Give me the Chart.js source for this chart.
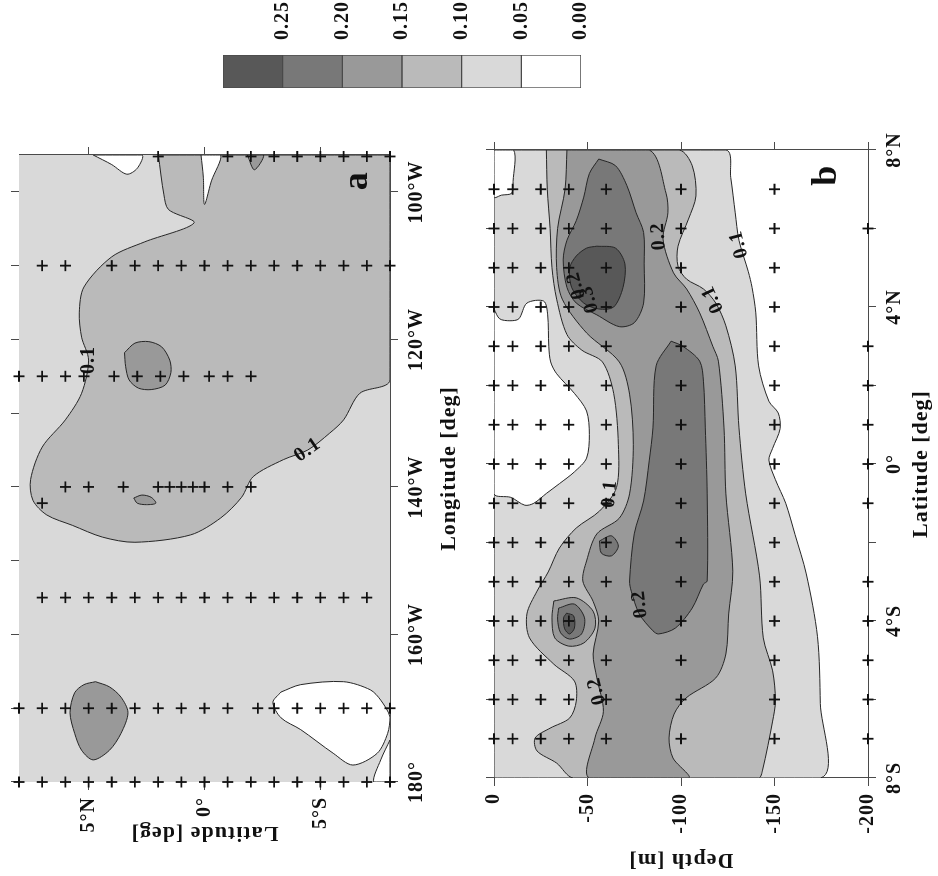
<!DOCTYPE html>
<html>
<head>
<meta charset="utf-8">
<title>Sections</title>
<script src="https://cdn.jsdelivr.net/npm/chart.js@4.4.1/dist/chart.umd.min.js"></script>
<style>
  html, body { margin: 0; padding: 0; background: #fff; overflow: hidden; }
  /* the figure is laid out upright and turned a quarter turn for the page */
  #page { position: absolute; left: 0; top: 0; width: 876px; height: 938px;
          transform-origin: 0 0; transform: translate(0, 876px) rotate(-90deg); }
  #page canvas { position: absolute; }
</style>
</head>
<body>
<div id="page">
  <canvas id="panelA" width="876" height="475" style="left:0;top:0"></canvas>
  <canvas id="panelB" width="876" height="463" style="left:0;top:475px"></canvas>
  <canvas id="scaleBar" width="116" height="400" style="left:760px;top:200px"></canvas>
</div>
<script>
// shading classes, shared by both panels and the scale bar
const levelBounds = [0, 0.05, 0.10, 0.15, 0.20, 0.25, 0.30]
const shades = ['#ffffff', '#d9d9d9', '#bababa', '#999999', '#787878', '#585858']

// ---- panel a: x = longitude (deg E), y = latitude
const lonTicksMajor = [180, 200, 220, 240, 260]
const lonTicksMinor = [180, 190, 200, 210, 220, 230, 240, 250, 260]
const latTicksA = [5, 0, -5]

const mapBackground = [[180, 8], [265, 8], [265, -8], [180, -8]]
const map010 = [[265, 1.99], [265, -8], [234.5, -8], [232.7, -6.7], [229.1, -6.0], [227.3, -5.4], [225, -4.45],
    [223.7, -3.4], [221.4, -2.1], [218.6, -1.6], [215.8, -0.7], [213.5, 0.6], [212.5, 3.0], [213.2, 4.4],
    [214.8, 5.7], [216.2, 6.8], [218.2, 7.4], [221, 7.5], [225.4, 7.0], [229.1, 6.0], [232.7, 5.3], [237.2, 5.0],
    [240.3, 5.3], [243.6, 5.4], [247.1, 5.2], [251.2, 4.0], [253.2, 2.6], [255.8, 0.45], [257.6, 1.55], [259.6, 1.75]]
const map015West = [[193.6, 4.7], [192.9, 4.1], [191.5, 3.6], [189.4, 3.3], [186.6, 3.6], [184.3, 4.1], [183, 4.8],
    [184.3, 5.3], [186.6, 5.6], [189.4, 5.8], [192.1, 5.6], [193.2, 5.2]]
const map015Mid = [[218.5, 3.05], [218.9, 2.7], [218.6, 2.3], [217.8, 2.1], [217.6, 2.5], [217.8, 2.9]]
const map015East = [[238.2, 3.45], [239.5, 3.0], [239.7, 2.4], [239, 1.85], [237.2, 1.5], [235.5, 1.45],
    [233.8, 1.7], [233.2, 2.3], [233.4, 2.85], [234.5, 3.25], [236.3, 3.4]]
const map015Edge = [[265, -1.85], [263, -2.15], [265, -2.55]]
const map000Top = [[265, 4.8], [263.7, 4.0], [262.4, 3.35], [263.2, 2.9], [265, 2.7]]
const map000Wedge = [[265, 0.15], [262, 0.05], [258.3, 0.0], [261.5, -0.3], [265, -0.7]]
const map000South = [[192.2, -3.3], [193.2, -4.15], [193.6, -6.0], [192.5, -7.15], [191.1, -7.6], [188.8, -8],
    [186.6, -7.9], [183.9, -7.45], [182.3, -6.4], [183.9, -5.55], [187.1, -4.15], [188.7, -3.3], [190.8, -2.95]]
const map000Corner = [[185.7, -8], [183, -7.6], [180, -7.3], [180, -8]]

const stationLons = [180, 190, 205, 220, 235, 250, 264.8]
const stationLats = [
    [8, 7, 6, 5, 4, 3, 2, 1, 0, -1, -2, -3, -4, -5, -6, -7, -8],
    [8, 7, 6, 5, 4, 3, 2, 1, 0, -1, -2.3, -3, -4, -5, -6, -7, -8],
    [7, 6, 5, 4, 3, 2, 1, 0, -1, -2, -3, -4, -5, -6, -7],
    [6, 5, 3.5, 2, 1.5, 1, 0.5, 0, -1, -2],
    [8, 7, 6, 5.2, 3.9, 2.9, 1.9, 0.9, -0.2, -1, -2],
    [7, 6, 4, 3, 2, 1, 0, -1, -2, -3, -4, -5, -6, -7, -8],
    [2, -1, -2, -3, -4, -5, -6, -7, -8],
]
const extraStationsA = [[217.8, 7]]

const mapLabels = [[237.2, 5.0, '0.1', 0], [225, -4.45, '0.1', 55]]
const mapTag = [[261.5, -6.6, 'a', 0]]

// ---- panel b: x = latitude, y = depth (m)
const latTicksB = [-8, -6, -4, -2, 0, 2, 4, 6, 8]
const depthTicks = [0, -50, -100, -150, -200]

const sectionL1 = [[8, 0], [-8, 0], [-8, -174.5], [-6.1, -174.5], [-4.4, -173], [-2.8, -167], [-1.8, -161],
    [-1.0, -156], [-0.4, -150.5], [0.1, -147], [0.4, -149], [0.9, -153], [1.3, -152], [1.6, -147], [2.5, -141.5],
    [3.85, -140], [4.5, -138], [4.9, -136], [5.7, -131], [6.4, -129], [7.3, -126.6], [8, -124]]
const sectionWhiteTop = [[8, 0], [8, -10.5], [7.2, -10.2], [6.9, -9.5], [6.85, -4], [6.8, 0]]
const sectionWhiteMid = [[3.95, 0], [3.7, -3], [3.65, -8.5], [3.7, -13.3], [4.1, -17.6], [4.15, -26.6], [3.8, -28.7],
    [3.0, -29.3], [2.6, -30.3], [2.3, -33.5], [1.8, -43], [1.35, -49.5], [0.75, -51], [0.15, -49.5], [-0.2, -43],
    [-0.5, -35], [-0.75, -28], [-1.0, -21.3], [-1.05, -16.5], [-0.85, -9], [-0.75, 0]]
const sectionL2 = [[8, -28], [7, -28.5], [6, -30], [5, -31], [4.2, -33.5], [3.3, -39], [2.9, -47], [2.6, -58],
    [1.8, -64], [0.5, -66.5], [-0.6, -65.5], [-1.2, -56.4], [-1.63, -44], [-2.14, -35], [-2.75, -29], [-3.24, -23],
    [-3.82, -17.6], [-4.43, -19], [-5.1, -32], [-5.53, -43], [-6.04, -44], [-6.47, -40.5], [-6.73, -30],
    [-6.98, -22], [-7.31, -23], [-7.62, -33.5], [-8, -42.5],
    [-8, -141.5], [-7.8, -143.6], [-6.55, -149], [-6.04, -150.5], [-5.27, -149], [-4.43, -144], [-2.85, -142],
    [-0.76, -134.6], [0.92, -131], [2.5, -129], [3.52, -124], [4.1, -118.6], [4.46, -112], [4.71, -103],
    [5.04, -98.4], [5.55, -98.4], [6.24, -104], [6.83, -108], [7.6, -106], [8, -99]]
const sectionL3 = [[8, -39], [7, -38], [6, -34], [5, -33.5], [4.2, -36.5], [3.34, -49.5], [2.6, -67], [1.78, -72.5],
    [0.5, -74.5], [-0.76, -72.5], [-1.38, -67], [-1.78, -55], [-2.47, -49.5], [-2.98, -47.5], [-3.5, -53],
    [-4, -56], [-4.84, -53], [-5.45, -55], [-6.3, -58.5], [-6.98, -54], [-8, -51],
    [-8, -104], [-7.49, -95.7], [-6.98, -93.6], [-6.37, -96.3], [-5.96, -102.7], [-5.45, -118.6], [-4.84, -124],
    [-3.82, -125.5], [-2.73, -127.7], [-0.76, -124], [0.92, -123], [2.62, -120], [3.0, -117], [3.85, -110],
    [4.46, -103], [4.87, -96], [5.73, -90.4], [6.4, -93], [6.9, -92], [8, -83]]
const sectionL4North = [[7.77, -56], [7.6, -65], [7.1, -71], [6.4, -76], [5.9, -80], [5.1, -80.3], [4.1, -80],
    [3.6, -75], [3.5, -67], [3.8, -55], [4.1, -44], [4.5, -39], [5.2, -37], [5.7, -39], [6.2, -44], [6.8, -48],
    [7.4, -51]]
const sectionL5North = [[5.55, -55], [5.5, -65], [5.1, -70], [4.5, -69], [4.0, -64], [3.95, -56], [4.1, -48],
    [4.5, -41.5], [5.0, -40.5], [5.3, -44], [5.5, -49.5]]
const sectionL4South = [[3.13, -94.7], [2.5, -86.7], [0.92, -85], [0.08, -83], [-0.94, -80], [-1.78, -75],
    [-2.98, -72.5], [-3.24, -73.4], [-3.82, -77.7], [-4.25, -85], [-4.33, -88], [-4.18, -97], [-3.67, -106],
    [-3.06, -112], [-2.98, -114], [-0.76, -114], [0.92, -113], [2.11, -112], [2.62, -110], [3.0, -101]]
const sectionL4Knot = [[-1.96, -56.4], [-1.83, -62.8], [-2.09, -66.5], [-2.34, -62.8], [-2.27, -57.4]]
const knotL3 = [[-3.49, -32], [-3.41, -44], [-3.75, -53], [-4.18, -54], [-4.56, -48], [-4.64, -40], [-4.43, -32.5],
    [-3.92, -31]]
const knotL4 = [[-3.67, -34.6], [-3.57, -43], [-3.92, -48.4], [-4.33, -46.8], [-4.46, -40.4], [-4.3, -35.6],
    [-3.95, -34]]
const knotL5 = [[-3.8, -38.8], [-3.87, -42.6], [-4.18, -43], [-4.33, -40.4], [-4.2, -37.8], [-3.92, -37.2]]

const castLats = [7, 6, 5, 4, 3, 2, 1, 0, -1, -2, -3, -4, -5, -6, -7]
const castDepths = [0, -10, -25, -40, -60, -100, -150]
const floorLats = [6, 3, 2, 1, 0, -1, -3, -4, -5, -6, -7]
const floorDepth = -200

const sectionLabels = [[5.6, -131, '0.1', -15], [4.2, -117, '0.1', -25], [5.8, -88, '0.2', -3],
    [4.55, -44, '0.2', -15], [4.2, -51, '0.3', -15], [-0.76, -62, '0.1', 5], [-5.78, -55, '0.2', -14],
    [-3.57, -78, '0.2', -7]]
const sectionTag = [[7.36, -178, 'b', 0]]


const frame = '#4a4a4a'
const ink = '#111111'
const contourInk = '#262626'

Chart.defaults.font.family = '"Liberation Serif", "DejaVu Serif", serif'
Chart.defaults.font.size = 20
Chart.defaults.font.weight = 'bold'
Chart.defaults.color = ink

let drawIndex = 0

/**
 * one shaded contour class, drawn as a closed filled line
 */
function region(points, level, outline = true) {
    drawIndex += 1
    return {
        data: points.concat([points[0]]).map(p => ({x: p[0], y: p[1]})),
        showLine: true,
        fill: 'shape',
        tension: 0.3,
        backgroundColor: shades[level],
        borderColor: outline ? contourInk : 'rgba(0,0,0,0)',
        borderWidth: outline ? 1 : 0,
        pointRadius: 0,
        order: 1000 - drawIndex,
    }
}

function stations(points) {
    return {
        data: points.map(p => ({x: p[0], y: p[1]})),
        showLine: false,
        pointStyle: 'cross',
        pointRadius: 5.5,
        borderWidth: 1.8,
        borderColor: ink,
        backgroundColor: ink,
        clip: false,
        order: 0,
    }
}

function fixedTicks(values) {
    return scale => {
        scale.ticks = values.map(value => ({value}))
    }
}

function fixedSize(px) {
    return scale => {
        if (scale.isHorizontal()) scale.height = px
        else scale.width = px
    }
}

function axis(position, min, max, ticks, size, extra = {}) {
    return Object.assign({
        type: 'linear',
        position,
        min,
        max,
        axis: position === 'top' || position === 'bottom' ? 'x' : 'y',
        afterBuildTicks: fixedTicks(ticks),
        afterFit: fixedSize(size),
        grid: {drawOnChartArea: false, tickLength: 8, color: frame, lineWidth: 1},
        border: {display: true, color: frame, width: 1},
        ticks: {display: false},
    }, extra)
}

function labelTicks(callback) {
    return {display: true, autoSkip: false, maxRotation: 0, padding: 7, callback}
}

function axisTitle(text, padding) {
    return {display: true, text, font: {size: 22, weight: 'bold'}, padding}
}

const lonText = v => v === 180 ? '180°' : `${360 - v}°W`
const latText = v => v > 0 ? `${v}°N` : v < 0 ? `${-v}°S` : '0°'

/**
 * text placed at data positions (contour values, panel letters)
 */
function textMarks(id, items, size) {
    return {
        id,
        afterDatasetsDraw(chart) {
            const {ctx, scales} = chart
            ctx.save()
            ctx.font = `bold ${size}px "Liberation Serif", serif`
            ctx.fillStyle = ink
            ctx.textAlign = 'center'
            ctx.textBaseline = 'middle'
            items.forEach(([x, y, text, angle]) => {
                ctx.save()
                ctx.translate(scales.x.getPixelForValue(x), scales.y.getPixelForValue(y))
                ctx.rotate(angle * Math.PI / 180)
                ctx.fillText(text, 0, 0)
                ctx.restore()
            })
            ctx.restore()
        }
    }
}

const spacedText = {
    id: 'spacedText',
    beforeUpdate(chart) { chart.ctx.letterSpacing = '1px' },
    beforeDraw(chart) { chart.ctx.letterSpacing = '1px' },
}

const common = {
    responsive: false,
    animation: false,
    events: [],
    devicePixelRatio: 1,
    plugins: {legend: {display: false}, tooltip: {enabled: false}},
}


const stationPointsA = []
stationLons.forEach((lon, i) => stationLats[i].forEach(lat => stationPointsA.push([lon, lat])))
extraStationsA.forEach(p => stationPointsA.push(p))

new Chart(document.getElementById('panelA'), {
    type: 'scatter',
    data: {
        datasets: [
            region(mapBackground, 1, false),
            region(map010, 2),
            region(map015Edge, 3),
            region(map015West, 3),
            region(map015Mid, 3),
            region(map015East, 3),
            region(map000Top, 0),
            region(map000Wedge, 0),
            region(map000South, 0),
            region(map000Corner, 0),
            stations(stationPointsA),
        ]
    },
    options: {
        ...common,
        scales: {
            x: axis('bottom', 180, 265, lonTicksMajor, 85, {
                ticks: labelTicks(lonText),
                title: axisTitle('Longitude [deg]', {top: 0, bottom: 12}),
            }),
            x2: axis('top', 180, 265, lonTicksMinor, 17),
            y: axis('left', -8, 8, latTicksA, 94, {
                ticks: labelTicks(latText),
                title: axisTitle('Latitude [deg]', {top: 30, bottom: 0}),
            }),
            y2: axis('right', -8, 8, latTicksA, 155),
        }
    },
    plugins: [spacedText, textMarks('mapLabels', mapLabels, 20), textMarks('mapTag', mapTag, 36)],
})


const castPoints = []
castLats.forEach(lat => castDepths.forEach(depth => castPoints.push([lat, depth])))
floorLats.forEach(lat => castPoints.push([lat, floorDepth]))

new Chart(document.getElementById('panelB'), {
    type: 'scatter',
    data: {
        datasets: [
            region(sectionL1, 1),
            region(sectionWhiteTop, 0),
            region(sectionWhiteMid, 0),
            region(sectionL2, 2),
            region(sectionL3, 3),
            region(knotL3, 3),
            region(sectionL4North, 4),
            region(sectionL4South, 4),
            region(sectionL4Knot, 4),
            region(knotL4, 4),
            region(sectionL5North, 5),
            region(knotL5, 5),
            stations(castPoints),
        ]
    },
    options: {
        ...common,
        scales: {
            x: axis('bottom', -8, 8, latTicksB, 70, {
                ticks: labelTicks(v => v % 4 === 0 ? latText(v) : ''),
                title: axisTitle('Latitude [deg]', {top: 0, bottom: 3}),
            }),
            x2: axis('top', -8, 8, latTicksB, 17),
            y: axis('left', -200, 0, depthTicks, 98, {
                ticks: labelTicks(v => `${v}`),
                title: axisTitle('Depth [m]', {top: 3, bottom: 0}),
            }),
            y2: axis('right', -200, 0, depthTicks, 150),
        }
    },
    plugins: [spacedText, textMarks('sectionLabels', sectionLabels, 20), textMarks('sectionTag', sectionTag, 36)],
})


// scale bar: one stacked column, one block per shading class
new Chart(document.getElementById('scaleBar'), {
    type: 'bar',
    data: {
        labels: [''],
        datasets: shades.map((color, i) => ({
            data: [levelBounds[i + 1] - levelBounds[i]],
            backgroundColor: color,
            borderColor: frame,
            borderWidth: 1,
            borderSkipped: false,
            barPercentage: 1,
            categoryPercentage: 1,
        }))
    },
    options: {
        ...common,
        layout: {padding: {left: 28, top: 23, bottom: 15, right: 0}},
        scales: {
            x: {display: false, stacked: true},
            y: {
                stacked: true,
                position: 'right',
                min: 0,
                max: 0.30,
                afterBuildTicks: fixedTicks(levelBounds.slice(0, 6)),
                afterFit: fixedSize(55),
                grid: {display: false},
                border: {display: false},
                ticks: {padding: 7, callback: v => v.toFixed(2)},
            },
        }
    },
    plugins: [spacedText],
})
</script>
</body>
</html>
